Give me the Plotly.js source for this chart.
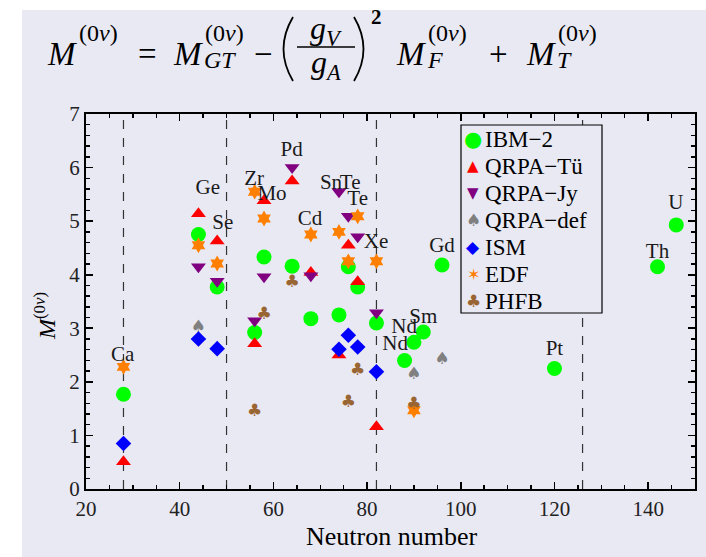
<!DOCTYPE html>
<html><head><meta charset="utf-8">
<script src="https://cdn.plot.ly/plotly-3.0.1.min.js"></script>
<style>html,body{margin:0;padding:0;background:#fff}#chart{width:706px;height:557px}</style>
</head><body>
<div id="chart"></div>
<script>
// ---------------- data ----------------
const ibmN = [28,44,48,56,58,64,68,74,76,78,82,88,90,92,96,120,142,146];
const ibmM = [1.77,4.75,3.77,2.92,4.33,4.16,3.18,3.25,4.15,3.77,3.10,2.40,2.74,2.93,4.18,2.25,4.15,4.93];
const tuN  = [28,44,48,56,58,64,68,74,76,78,82];
const tuM  = [0.51,5.14,4.63,2.71,5.38,5.75,4.04,2.50,4.55,3.87,1.16];
const jyN  = [44,48,56,58,64,68,74,76,78,82];
const jyM  = [4.15,3.88,3.14,3.96,6.00,3.98,5.55,5.09,4.71,3.29];
const defN = [44,90,96];
const defM = [3.01,2.13,2.41];
const ismN = [28,44,48,74,76,78,82];
const ismM = [0.85,2.80,2.62,2.61,2.87,2.65,2.19];
const edfN = [28,44,48,56,58,68,74,76,78,82,90];
const edfM = [2.28,4.55,4.21,5.55,5.05,4.75,4.80,4.25,5.09,4.25,1.47];
const phfbN = [56,58,64,76,78,90];
const phfbM = [1.44,3.25,3.85,1.61,2.21,1.57];
const nucleusText = ['Ca','Ge','Se','Zr','Mo','Pd','Cd','Sn','Te','Te','Xe','Nd','Sm','Nd','Gd','Pt','Th','U'];
const nucleusN = [27.8,46.0,49.2,55.9,59.7,63.9,67.8,72.3,76.4,78.0,81.9,87.9,92.0,86.0,96.0,120.0,142.0,145.9];
const nucleusM = [2.48,5.60,4.96,5.78,5.49,6.31,5.02,5.69,5.70,5.40,4.60,3.01,3.20,2.69,4.52,2.60,4.41,5.32];
const magicN = [28,50,82,126];
const seriesNames = ['IBM\u22122','QRPA\u2212T\u00fc','QRPA\u2212Jy','QRPA\u2212def','ISM','EDF','PHFB'];

// ---------------- styles ----------------
const C = {ibm:'#00ff00', tu:'#ff0000', jy:'#800080', def:'#808080', ism:'#0000ff', edf:'#ff8000', phfb:'#996633'};
const SERIF = 'Liberation Serif';
const BG = '#e9e9f4';
const L = 86, R = 695, T = 114, B = 489, W = R - L, H = B - T;
const px = x => (x - L) / W, py = y => (B - y) / H;

function mk(name, xs, ys, symbol, size, color) {
  return {type:'scatter', mode:'markers', name, x:xs, y:ys, showlegend:false,
    marker:{symbol, size, color, line:{width:0}}, cliponaxis:false};
}
function glyph(name, xs, ys, ch, size, color) {
  return {type:'scatter', mode:'text', name, x:xs, y:ys, showlegend:false,
    text: xs.map(() => ch), textposition:'middle center',
    textfont:{family:'DejaVu Sans', size, color}, cliponaxis:false};
}

const traces = [
  mk(seriesNames[0], ibmN, ibmM, 'circle', 15, C.ibm),
  mk(seriesNames[1], tuN, tuM, 'triangle-up', 13, C.tu),
  mk(seriesNames[2], jyN, jyM, 'triangle-down', 13, C.jy),
  glyph(seriesNames[3], defN, defM, '\u2660', 17, C.def),
  mk(seriesNames[4], ismN, ismM, 'diamond', 12, C.ism),
  mk(seriesNames[5], edfN, edfM, 'hexagram', 12, C.edf),
  glyph(seriesNames[6], phfbN, phfbM, '\u2663', 17, C.phfb),
  {type:'scatter', mode:'text', x:nucleusN, y:nucleusM, text:nucleusText, showlegend:false,
   textposition:'middle center', textfont:{family:SERIF, size:21, color:'#1a1a1a'}, cliponaxis:false}
];

function ann(text, x, y, size, o) {
  o = o || {};
  return {xref:'paper', yref:'paper', x:px(x), y:py(y), text, showarrow:false,
    xanchor:o.xa || 'left', yanchor:o.ya || 'middle', textangle:o.ang || 0,
    font:{family:o.fam || SERIF, size, color:o.color || '#000'}};
}

const annotations = [];
// formula  M^(0ν) = M_GT^(0ν) − (gV/gA)^2 M_F^(0ν) + M_T^(0ν)
const mainY = 54, supY = 33, subY = 60, MS = 33, SS = 24;
function bigM(rightEdge) { annotations.push(ann('<i>M</i>', rightEdge, mainY, MS, {xa:'right'})); }
bigM(79);
annotations.push(ann('(0<i>\u03bd</i>)', 77, supY, SS));
annotations.push(ann('=', 147, mainY, MS, {xa:'center'}));
bigM(205);
annotations.push(ann('(0<i>\u03bd</i>)', 203, supY, SS));
annotations.push(ann('<i>GT</i>', 202, subY, SS));
annotations.push(ann('\u2212', 263, mainY, MS, {xa:'center'}));
annotations.push(ann('<i>g<sub>V</sub></i>', 326, 30, 32, {xa:'center'}));
annotations.push(ann('<i>g<sub>A</sub></i>', 326, 64, 32, {xa:'center'}));
annotations.push(ann('<b>2</b>', 369, 17, 21));
bigM(428);
annotations.push(ann('(0<i>\u03bd</i>)', 426, supY, SS));
annotations.push(ann('<i>F</i>', 425, subY, SS));
annotations.push(ann('+', 499, mainY, MS, {xa:'center'}));
bigM(558);
annotations.push(ann('(0<i>\u03bd</i>)', 556, supY, SS));
annotations.push(ann('<i>T</i>', 555, subY, SS));
// axis titles
annotations.push(ann('Neutron number', 391, 536, 26, {xa:'center'}));
annotations.push(ann('<i>M</i><sup>(0<i>\u03bd</i>)</sup>', 45, 316, 24, {xa:'center', ang:-90}));
// legend
const legGlyph = ['\u25cf','\u25b2','\u25bc','\u2660','\u25c6','\u2736','\u2663'];
const legCol = [C.ibm, C.tu, C.jy, C.def, C.ism, C.edf, C.phfb];
const legSize = [21, 15, 15, 17, 17, 16, 17];
seriesNames.forEach((nm, i) => {
  const y = 139 + i * 27;
  annotations.push(ann(legGlyph[i], 473, y, legSize[i], {xa:'center', fam:'DejaVu Sans', color:legCol[i]}));
  annotations.push(ann(nm, 483, y, 23));
});

const shapes = [];
shapes.push({type:'rect', xref:'paper', yref:'paper', x0:px(22), x1:px(706), y0:py(557), y1:py(10),
  fillcolor:BG, line:{width:0}, layer:'below'});
magicN.forEach(n => shapes.push({type:'line', xref:'x', yref:'paper', x0:n, x1:n, y0:0, y1:1,
  line:{color:'#333', width:1.2, dash:'dash'}, layer:'below'}));
shapes.push({type:'rect', xref:'paper', yref:'paper', x0:px(461), x1:px(602), y0:py(313), y1:py(125),
  fillcolor:BG, line:{color:'#000', width:1.2}, layer:'above'});
shapes.push({type:'line', xref:'paper', yref:'paper', x0:px(297), x1:px(355), y0:py(47), y1:py(47),
  line:{color:'#000', width:1.5}});
shapes.push({type:'path', xref:'paper', yref:'paper',
  path:`M ${px(293)} ${py(17)} Q ${px(274)} ${py(49)} ${px(293)} ${py(81)}`, line:{color:'#000', width:1.8}});
shapes.push({type:'path', xref:'paper', yref:'paper',
  path:`M ${px(354)} ${py(17)} Q ${px(373)} ${py(49)} ${px(354)} ${py(81)}`, line:{color:'#000', width:1.8}});

const axisCommon = {showgrid:false, zeroline:false, showline:true, linecolor:'#000', linewidth:2,
  mirror:'allticks', ticks:'inside', ticklen:7, tickwidth:1.6, tickcolor:'#000',
  tickfont:{family:SERIF, size:21, color:'#222'}};

const layout = {
  width:706, height:557, autosize:false,
  margin:{l:L, r:706 - R, t:T, b:557 - B},
  paper_bgcolor:'#ffffff', plot_bgcolor:'rgba(0,0,0,0)',
  showlegend:false,
  font:{family:SERIF},
  xaxis:Object.assign({}, axisCommon, {range:[20,150], tick0:20, dtick:20,
    minor:{dtick:5, ticks:'inside', ticklen:4, tickwidth:1.4, tickcolor:'#000', showgrid:false}}),
  yaxis:Object.assign({}, axisCommon, {range:[0,7], tick0:0, dtick:1,
    minor:{dtick:0.2, ticks:'inside', ticklen:4, tickwidth:1.4, tickcolor:'#000', showgrid:false}}),
  annotations, shapes
};

Plotly.newPlot('chart', traces, layout, {displayModeBar:false, staticPlot:true});
</script></body></html>
